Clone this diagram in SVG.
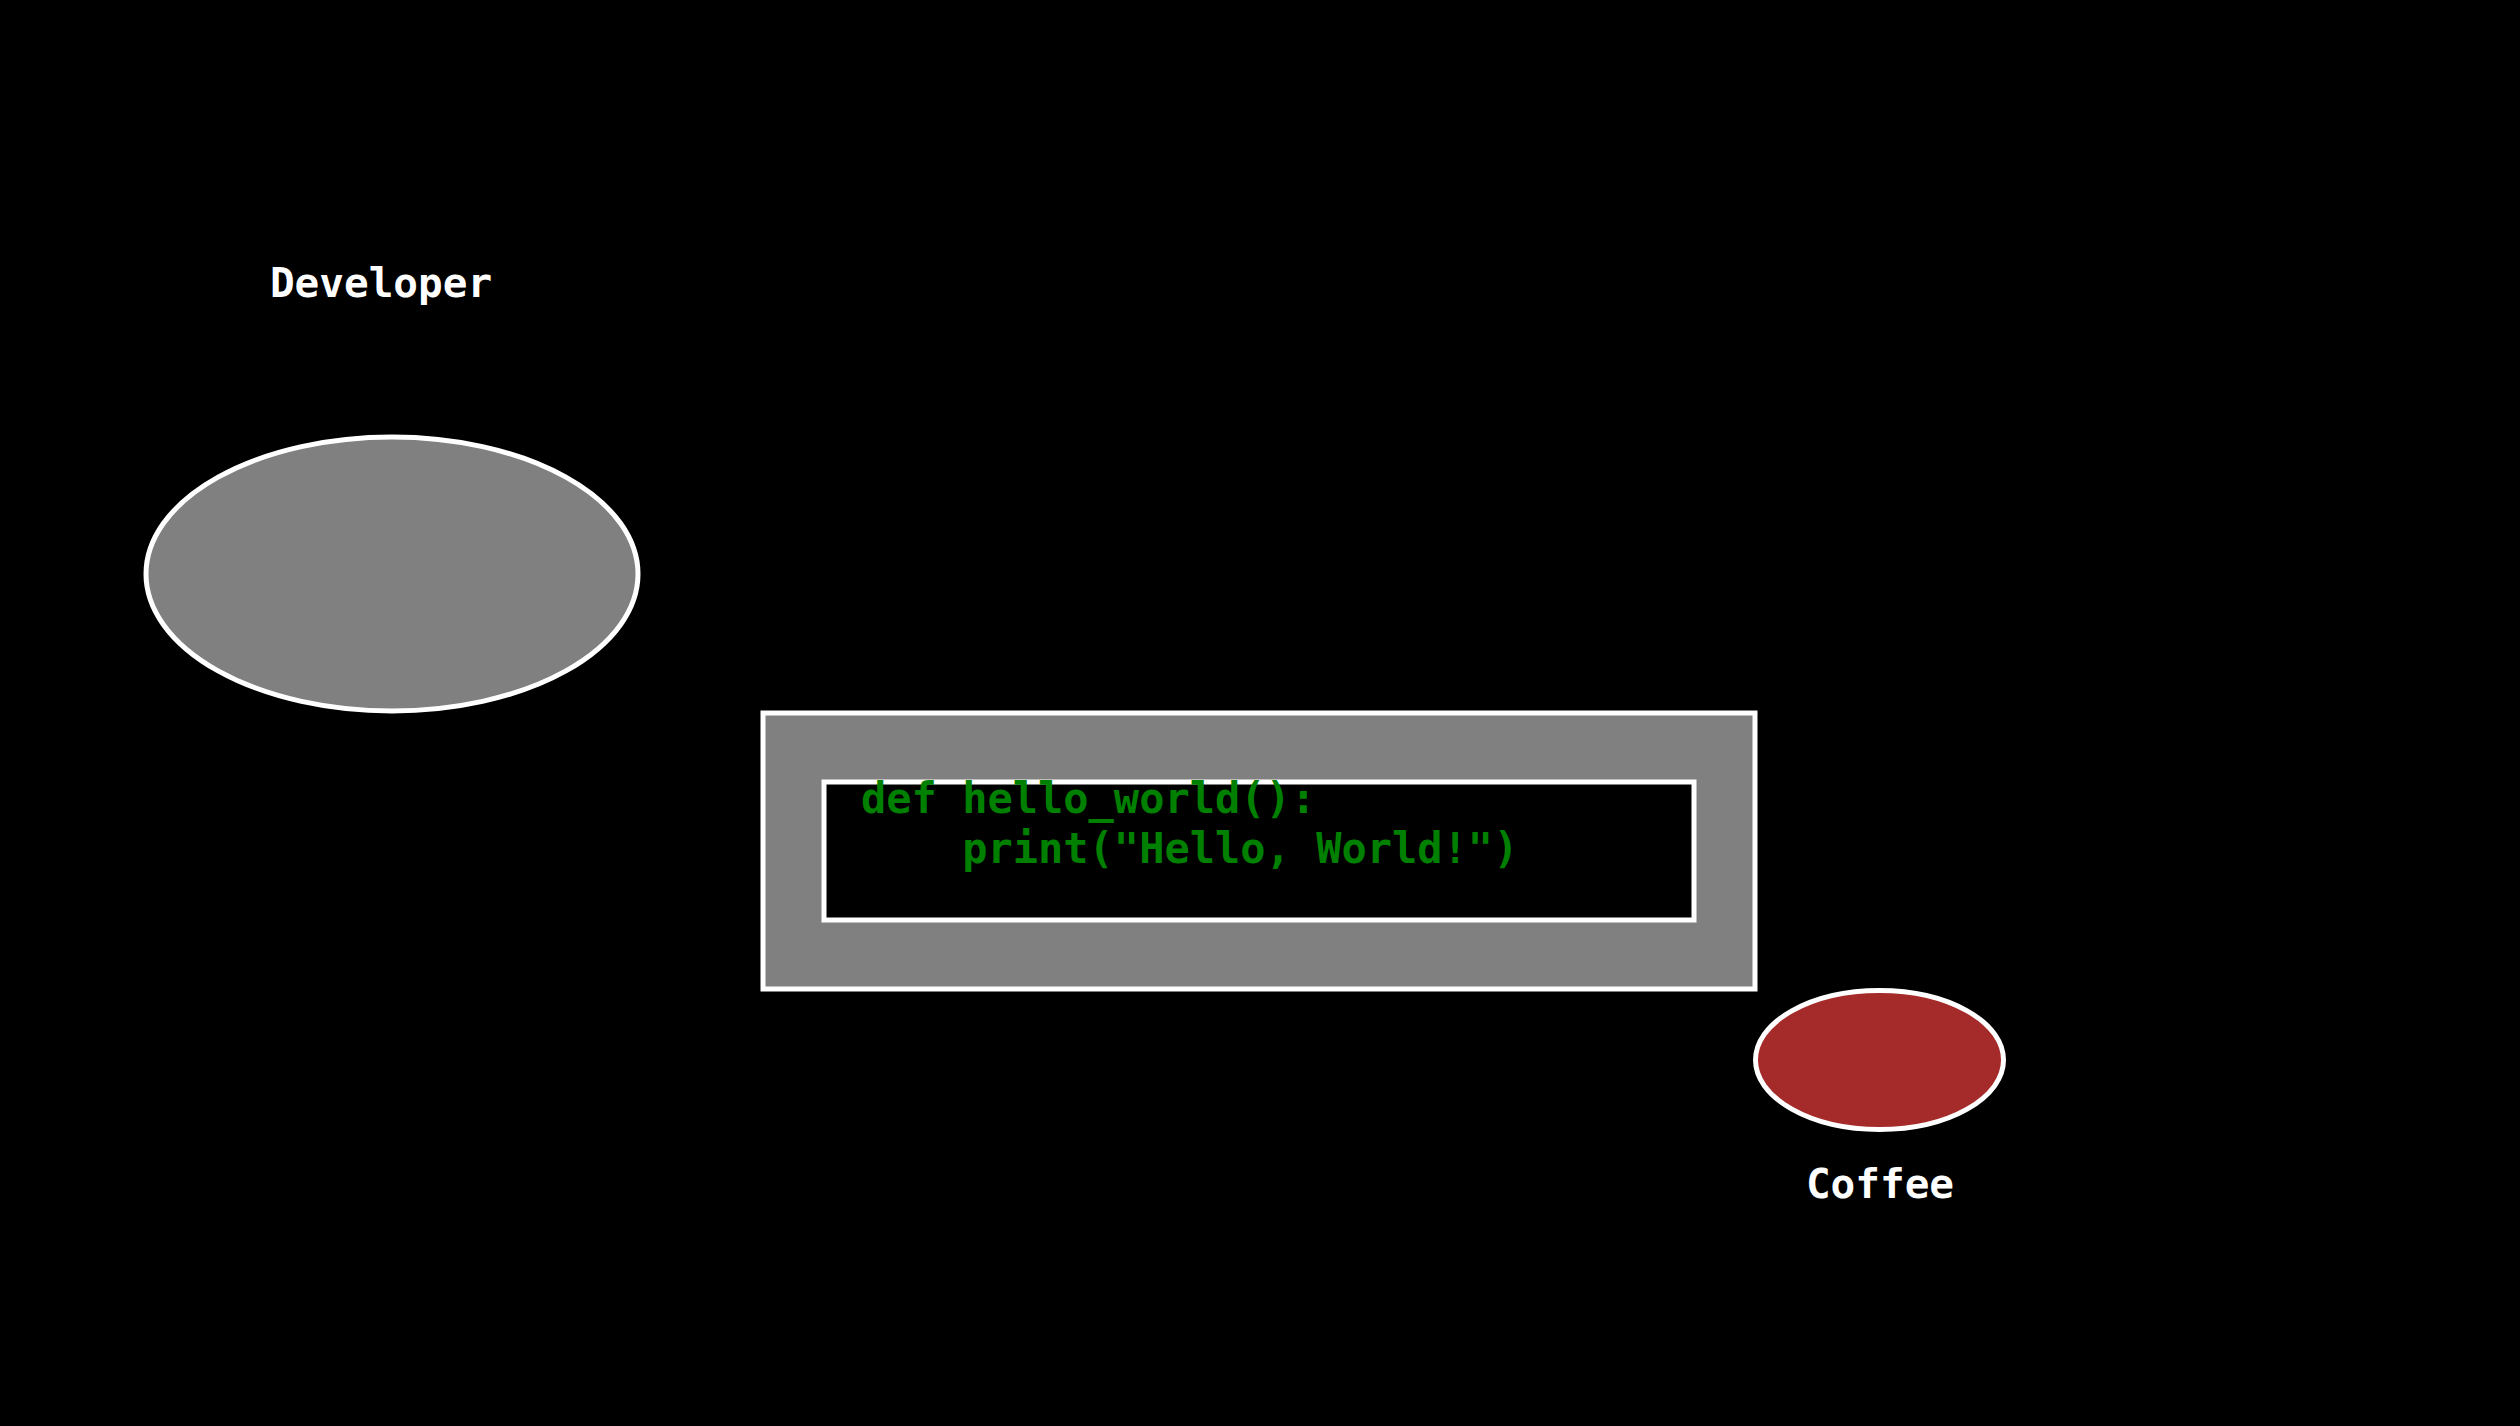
<svg xmlns="http://www.w3.org/2000/svg" width="2520" height="1426" viewBox="0 0 2520 1426">
<style>
.lbl{font-family:"DejaVu Sans Mono","Liberation Mono",monospace;font-weight:bold;font-size:41px;fill:#ffffff;text-anchor:middle}
.code{font-family:"DejaVu Sans Mono","Liberation Mono",monospace;font-weight:bold;font-size:42px;fill:#008000;white-space:pre}
.shape{stroke:#ffffff;stroke-width:5}
</style>
<rect x="0" y="0" width="2520" height="1426" fill="#000000"/>
<g id="developer">
<text class="lbl" x="381" y="297">Developer</text>
<ellipse class="shape" cx="392" cy="574" rx="246" ry="137" fill="#808080"/>
</g>
<g id="computer">
<rect class="shape" x="763" y="713" width="992" height="276" fill="#808080"/>
<rect class="shape" x="824" y="782" width="870" height="138" fill="#000000"/>
<text class="code" x="861" y="813" xml:space="preserve">def hello_world():</text>
<text class="code" x="861" y="863" xml:space="preserve">    print("Hello, World!")</text>
</g>
<g id="coffee">
<ellipse class="shape" cx="1879.5" cy="1060" rx="124" ry="69.5" fill="#A52A2A"/>
<text class="lbl" x="1880" y="1198">Coffee</text>
</g>
<g id="connectors"></g>
</svg>
